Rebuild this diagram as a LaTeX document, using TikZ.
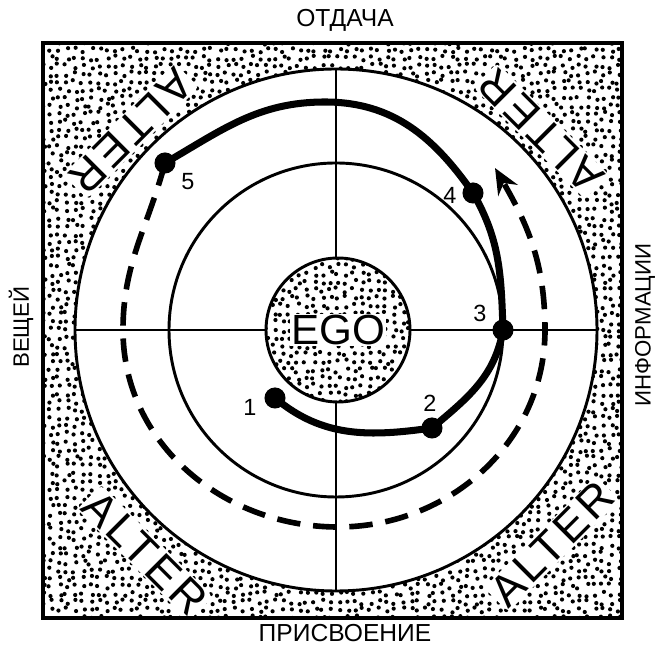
\documentclass[tikz,border=0pt]{standalone}
\usepackage{fontspec}
\setmainfont{Liberation Sans}
\usetikzlibrary{arrows.meta,positioning}

\tikzset{
  frameline/.style={line width=3.2pt},
  thinline/.style={line width=2.5pt},
  axislabel/.style={font=\fontsize{21}{21}\selectfont},
  sidelabel/.style={font=\fontsize{19}{19}\selectfont},
  alterlabel/.style={fill=white, inner sep=1.5pt, rounded corners=4pt,
    font=\fontsize{38}{38}\selectfont\addfontfeatures{LetterSpace=8}},
  numlabel/.style={font=\fontsize{20}{20}\selectfont},
  stagedot/.style={circle, fill=black, inner sep=0pt, minimum size=18pt},
  stagepath/.style={line width=6pt, line cap=round},
  returnpath/.style={line width=4.8pt, dash pattern=on 20pt off 11pt,
    -{Stealth[length=22pt,width=19pt]}}
}

\begin{document}
\begin{tikzpicture}[x=0.03cm, y=0.03cm]
  \useasboundingbox (0,0) rectangle (662,648);
  \coordinate (c) at (336,318);
  \coordinate (ego) at (338,318);

  % stippled ring between square and big circle
  \begin{scope}[even odd rule]
    \clip (43,30) rectangle (622,605) (c) circle (261);
    \pgfmathsetseed{42}
    \foreach \i in {0,...,72}{
      \foreach \j in {0,...,72}{
        \pgfmathsetmacro\dx{43+8*\i+5*rnd-2.5}
        \pgfmathsetmacro\dy{30+8*\j+5*rnd-2.5}
        \fill (\dx,\dy) circle (2.1);
      }
    }
  \end{scope}

  % ALTER in the corners
  \node[alterlabel, rotate=-135] (alter-tl) at (131,517) {ALTER};
  \node[alterlabel, rotate=135] (alter-tr) at (541,517) {ALTER};
  \node[alterlabel, rotate=-45] (alter-bl) at (145,95) {ALTER};
  \node[alterlabel, rotate=45] (alter-br) at (552,104) {ALTER};

  % square, circles, cross
  \draw[frameline] (43,30) rectangle (622,605);
  \draw[thinline] (c) circle (261);
  \draw[thinline] (c) circle (167);
  \draw[thinline] (c) ++(-261,0) -- ++(522,0);
  \draw[thinline] (c) ++(0,-261) -- ++(0,522);

  % EGO
  \fill[white] (ego) circle (72);
  \begin{scope}
    \clip (ego) circle (72);
    \foreach \i in {0,...,19}{
      \foreach \j in {0,...,19}{
        \pgfmathsetmacro\dx{266+8*\i+5*rnd-2.5}
        \pgfmathsetmacro\dy{246+8*\j+5*rnd-2.5}
        \fill (\dx,\dy) circle (2.1);
      }
    }
  \end{scope}
  \draw[thinline] (ego) circle (72);
  \node[fill=white, inner sep=1pt, font=\fontsize{36}{36}\selectfont] (egotext) at (ego) {EGO};

  % stages
  \coordinate (p1) at (275,250);
  \coordinate (p2) at (432,220);
  \coordinate (p3) at (503,318);
  \coordinate (p4) at (473,455);
  \coordinate (p5) at (165,485);
  \coordinate (top) at (325,546);
  \coordinate (dl) at (123,318);
  \coordinate (db) at (338,121);
  \coordinate (dr) at (545,318);
  \coordinate (tip) at (495,480);

  \draw[returnpath] (p5) to[out=-105,in=90] (dl) to[out=-90,in=180] (db)
    to[out=0,in=-90] (dr) to[out=90,in=-60] (tip);
  \draw[stagepath] (p1) to[out=-40,in=188] (p2) to[out=40,in=-100] (p3)
    to[out=92,in=-60] (p4) to[out=125,in=0] (top) to[out=180,in=30] (p5);

  \foreach \k in {1,...,5}
    \node[stagedot] (d\k) at (p\k) {};

  \node[numlabel] (n1) at (250,241) {1};
  \node[numlabel] (n2) at (430,245) {2};
  \node[numlabel] (n3) at (480,335) {3};
  \node[numlabel] (n4) at (450,453) {4};
  \node[numlabel] (n5) at (188,466) {5};

  % labels
  \node[axislabel] (give) at (345,628) {ОТДАЧА};
  \node[axislabel] (take) at (345,15) {ПРИСВОЕНИЕ};
  \node[sidelabel, rotate=90] (things) at (21,321) {ВЕЩЕЙ};
  \node[sidelabel, rotate=90] (info) at (645,323) {ИНФОРМАЦИИ};
\end{tikzpicture}
\end{document}
